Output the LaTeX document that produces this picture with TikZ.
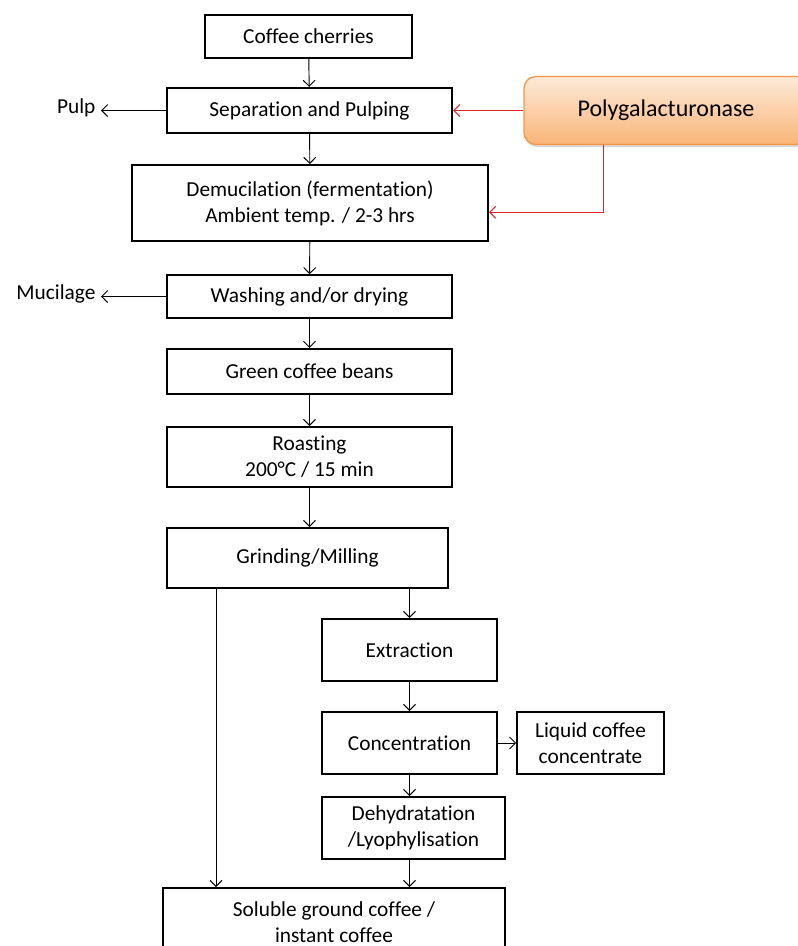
\documentclass[tikz,border=0pt]{standalone}
\usepackage{fontspec}
\setmainfont{Carlito}[Ligatures={NoCommon,NoRequired,NoContextual}]
\usetikzlibrary{arrows.meta,shadows}

\definecolor{enzred}{RGB}{220,40,40}
\definecolor{enzedge}{RGB}{247,150,70}
\definecolor{enztop}{RGB}{253,234,218}
\definecolor{enzbot}{RGB}{250,180,120}

\begin{document}
\begin{tikzpicture}[
  x=0.75pt, y=-0.75pt,
  procbox/.style={draw,line width=1.5pt,align=center,inner sep=0pt,font=\fontsize{16}{19.5}\selectfont},
  outtext/.style={inner sep=4pt,font=\fontsize{16}{19.5}\selectfont},
  flow/.style={-{Straight Barb[length=4.5pt,width=9pt]},line width=0.7pt},
  enzflow/.style={-{Straight Barb[length=4.5pt,width=9pt]},line width=0.8pt,draw=enzred},
  enzyme/.style={draw=enzedge,line width=1pt,rounded corners=9pt,top color=enztop,bottom color=enzbot,
    drop shadow={shadow xshift=1pt,shadow yshift=-2pt,opacity=0.3},font=\fontsize{18}{22}\selectfont}
]
  \useasboundingbox (0,0) rectangle (798,946);
  \clip (0,0) rectangle (798,946);
  % main line
  \node[procbox,minimum width=155pt,minimum height=32pt] (cherries) at (308.5,36.5) {Coffee cherries};
  \node[procbox,minimum width=214pt,minimum height=34pt] (pulping) at (309.5,110.5) {Separation and Pulping};
  \node[procbox,minimum width=267pt,minimum height=57pt] (demuc) at (310,203) {Demucilation (fermentation)\\Ambient temp. / 2-3 hrs};
  \node[procbox,minimum width=214pt,minimum height=32pt] (washing) at (309.5,296.5) {Washing and/or drying};
  \node[procbox,minimum width=214pt,minimum height=34pt] (beans) at (309.5,371.5) {Green coffee beans};
  \node[procbox,minimum width=214pt,minimum height=45pt] (roasting) at (309.5,457) {Roasting\\200°C / 15 min};
  \node[procbox,minimum width=211pt,minimum height=45pt] (grinding) at (307.5,558) {Grinding/Milling};
  \node[procbox,minimum width=131pt,minimum height=46.5pt] (extraction) at (409.5,650) {Extraction};
  \node[procbox,minimum width=131pt,minimum height=46.5pt] (concentration) at (409.5,743) {Concentration};
  \node[procbox,minimum width=110pt,minimum height=46.5pt] (liquid) at (590.5,743) {Liquid coffee\\concentrate};
  \node[procbox,minimum width=137pt,minimum height=46.5pt] (dehyd) at (413.5,828) {Dehydratation\\/Lyophylisation};
  \node[procbox,minimum width=256.5pt,minimum height=51pt] (soluble) at (334,922) {Soluble ground coffee /\\instant coffee};
  % side outputs
  \node[outtext,anchor=east] (pulp) at (101,108) {Pulp};
  \node[outtext,anchor=east] (mucilage) at (101,294) {Mucilage};
  % enzyme
  \node[enzyme,minimum width=213pt,minimum height=51pt] (poly) at (666,110.5) {Polygalacturonase};

  \draw[flow] (cherries) -- (pulping);
  \draw[flow] (pulping) -- (demuc);
  \draw[flow] (demuc) -- (washing);
  \draw[flow] (washing) -- (beans);
  \draw[flow] (beans) -- (roasting);
  \draw[flow] (roasting.south) -- (roasting.south |- grinding.north);
  \draw[flow] (extraction.north |- grinding.south) -- (extraction.north);
  \draw[flow] (extraction.south) -- (extraction.south |- concentration.north);
  \draw[flow] (concentration.south) -- (concentration.south |- dehyd.north);
  \draw[flow] (concentration.south |- dehyd.south) -- (concentration.south |- soluble.north);
  \draw[flow] (216,0 |- grinding.south) -- (216,0 |- soluble.north);
  \draw[flow] (concentration.east) -- (liquid.west);
  \draw[flow] (pulping.west) -- (pulping.west -| pulp.east);
  \draw[flow] (washing.west) -- (washing.west -| mucilage.east);
  \draw[enzflow] (poly.west) -- (pulping.east);
  \draw[enzflow] ([xshift=-47pt]poly.south) |- ([yshift=-7pt]demuc.east);
\end{tikzpicture}
\end{document}
